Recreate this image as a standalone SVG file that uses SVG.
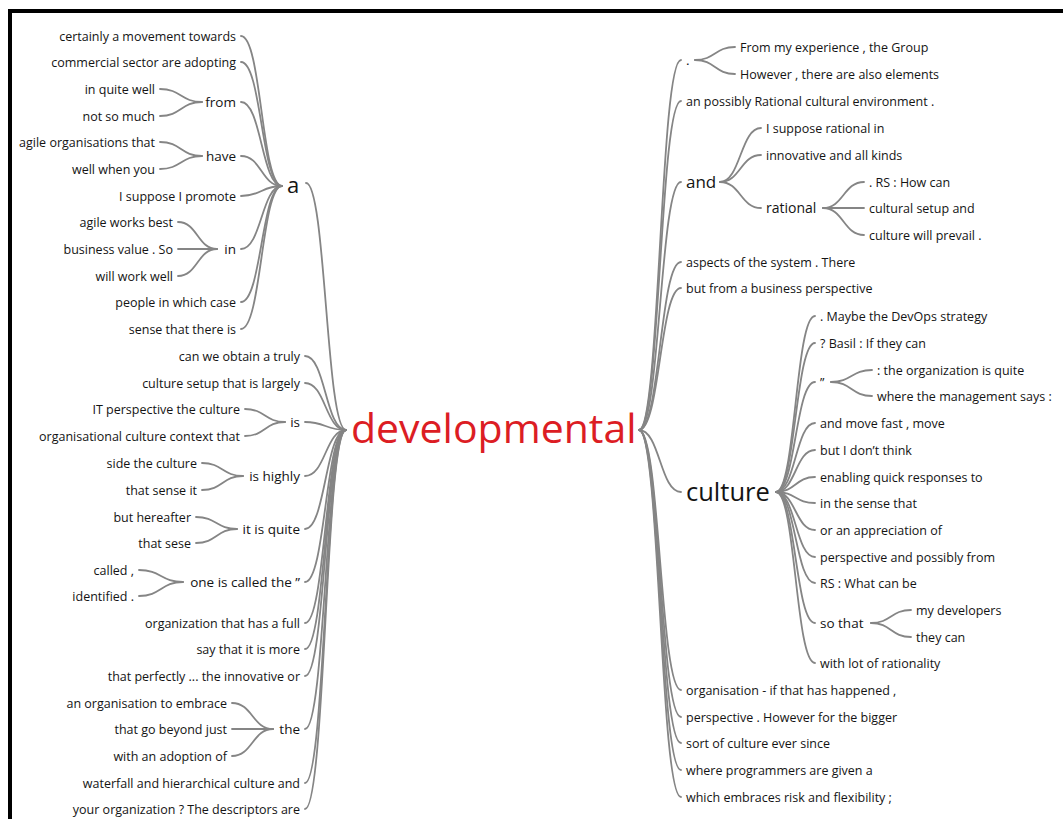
<svg xmlns="http://www.w3.org/2000/svg" width="1063" height="819" viewBox="0 0 1063 819">
  <style>
    text { font-family: "Open Sans", "Noto Sans", sans-serif; fill: #141414; }
    .leaf { font-size: 12.5px; }
    .mid { font-size: 13.5px; }
    .end { text-anchor: end; }
    .root { font-size: 41px; fill: #dc1d24; }
    .c { fill: none; stroke: #858585; stroke-width: 1.8; stroke-linecap: round; }
  </style>
  <rect width="1063" height="819" fill="#ffffff"/>
  <!-- frame: top and left edges only -->
  <path d="M10 819V11H1063" fill="none" stroke="#000" stroke-width="4"/>

  <g id="connectors">
    <!-- a -> children -->
    <path class="c" d="M241 36C261.5 36 261.5 186 282 186"/>
    <path class="c" d="M241 62C261.5 62 261.5 186 282 186"/>
    <path class="c" d="M241 102C261.5 102 261.5 186 282 186"/>
    <path class="c" d="M241 156C261.5 156 261.5 186 282 186"/>
    <path class="c" d="M241 196C261.5 196 261.5 186 282 186"/>
    <path class="c" d="M241 249C261.5 249 261.5 186 282 186"/>
    <path class="c" d="M241 302C261.5 302 261.5 186 282 186"/>
    <path class="c" d="M241 329C261.5 329 261.5 186 282 186"/>
    <!-- from / have / in -->
    <path class="c" d="M160 89C181 89 181 102 202 102"/>
    <path class="c" d="M160 116C181 116 181 102 202 102"/>
    <path class="c" d="M160 142C181 142 181 156 202 156"/>
    <path class="c" d="M160 169C181 169 181 156 202 156"/>
    <path class="c" d="M178 222C197.5 222 197.5 249 217 249"/>
    <path class="c" d="M178 249C197.5 249 197.5 249 217 249"/>
    <path class="c" d="M178 276C197.5 276 197.5 249 217 249"/>
    <!-- developmental (left side) -->
    <path class="c" d="M306 183C326 183 326 430 346 430"/>
    <path class="c" d="M305 356C325.5 356 325.5 430 346 430"/>
    <path class="c" d="M305 383C325.5 383 325.5 430 346 430"/>
    <path class="c" d="M305 422C325.5 422 325.5 430 346 430"/>
    <path class="c" d="M305 476C325.5 476 325.5 430 346 430"/>
    <path class="c" d="M305 529C325.5 529 325.5 430 346 430"/>
    <path class="c" d="M305 582C325.5 582 325.5 430 346 430"/>
    <path class="c" d="M305 623C325.5 623 325.5 430 346 430"/>
    <path class="c" d="M305 649C325.5 649 325.5 430 346 430"/>
    <path class="c" d="M305 676C325.5 676 325.5 430 346 430"/>
    <path class="c" d="M305 729C325.5 729 325.5 430 346 430"/>
    <path class="c" d="M305 783C325.5 783 325.5 430 346 430"/>
    <path class="c" d="M305 809C325.5 809 325.5 430 346 430"/>
    <!-- is / is highly / it is quite / one is called the / the -->
    <path class="c" d="M245 409C265 409 265 422 285 422"/>
    <path class="c" d="M245 436C265 436 265 422 285 422"/>
    <path class="c" d="M202 463C222.5 463 222.5 476 243 476"/>
    <path class="c" d="M202 490C222.5 490 222.5 476 243 476"/>
    <path class="c" d="M196 517C216.5 517 216.5 529 237 529"/>
    <path class="c" d="M196 543C216.5 543 216.5 529 237 529"/>
    <path class="c" d="M139 570C161 570 161 582 183 582"/>
    <path class="c" d="M139 596C161 596 161 582 183 582"/>
    <path class="c" d="M232 703C252.5 703 252.5 729 273 729"/>
    <path class="c" d="M232 729C252.5 729 252.5 729 273 729"/>
    <path class="c" d="M232 756C252.5 756 252.5 729 273 729"/>
    <!-- developmental (right side) -->
    <path class="c" d="M639 430C660 430 660 60 681 60"/>
    <path class="c" d="M639 430C660 430 660 101 681 101"/>
    <path class="c" d="M639 430C660 430 660 182 681 182"/>
    <path class="c" d="M639 430C660 430 660 262 681 262"/>
    <path class="c" d="M639 430C660 430 660 288 681 288"/>
    <path class="c" d="M639 430C660 430 660 492 681 492"/>
    <path class="c" d="M639 430C660 430 660 690 681 690"/>
    <path class="c" d="M639 430C660 430 660 717 681 717"/>
    <path class="c" d="M639 430C660 430 660 743 681 743"/>
    <path class="c" d="M639 430C660 430 660 770 681 770"/>
    <path class="c" d="M639 430C660 430 660 797 681 797"/>
    <!-- . -->
    <path class="c" d="M695 60C715 60 715 47 735 47"/>
    <path class="c" d="M695 60C715 60 715 74 735 74"/>
    <!-- and / rational -->
    <path class="c" d="M720 182C740.5 182 740.5 128 761 128"/>
    <path class="c" d="M720 182C740.5 182 740.5 155 761 155"/>
    <path class="c" d="M720 182C740.5 182 740.5 208 761 208"/>
    <path class="c" d="M823 208C843.5 208 843.5 182 864 182"/>
    <path class="c" d="M823 208C843.5 208 843.5 208 864 208"/>
    <path class="c" d="M823 208C843.5 208 843.5 235 864 235"/>
    <!-- culture -->
    <path class="c" d="M776 492C795.5 492 795.5 316 815 316"/>
    <path class="c" d="M776 492C795.5 492 795.5 343 815 343"/>
    <path class="c" d="M776 492C795.5 492 795.5 382 815 382"/>
    <path class="c" d="M776 492C795.5 492 795.5 423 815 423"/>
    <path class="c" d="M776 492C795.5 492 795.5 450 815 450"/>
    <path class="c" d="M776 492C795.5 492 795.5 477 815 477"/>
    <path class="c" d="M776 492C795.5 492 795.5 503 815 503"/>
    <path class="c" d="M776 492C795.5 492 795.5 530 815 530"/>
    <path class="c" d="M776 492C795.5 492 795.5 557 815 557"/>
    <path class="c" d="M776 492C795.5 492 795.5 583 815 583"/>
    <path class="c" d="M776 492C795.5 492 795.5 623 815 623"/>
    <path class="c" d="M776 492C795.5 492 795.5 663 815 663"/>
    <!-- quote / so that -->
    <path class="c" d="M831 382C851.5 382 851.5 370 872 370"/>
    <path class="c" d="M831 382C851.5 382 851.5 396 872 396"/>
    <path class="c" d="M871 623C891 623 891 610 911 610"/>
    <path class="c" d="M871 623C891 623 891 637 911 637"/>
  </g>

  <g id="node-developmental"><text class="root" x="351" y="443">developmental</text></g>

  <!-- left branch: a -->
  <g id="node-a"><text x="287" y="193" font-size="22">a</text></g>
  <g id="node-a-leaves">
    <text class="leaf end" x="236" y="40.5">certainly a movement towards</text>
    <text class="leaf end" x="236" y="66.5">commercial sector are adopting</text>
    <text class="leaf end" x="236" y="200.5">I suppose I promote</text>
    <text class="leaf end" x="236" y="306.5">people in which case</text>
    <text class="leaf end" x="236" y="333.5">sense that there is</text>
  </g>
  <g id="node-from">
    <text class="mid end" x="236" y="107">from</text>
    <text class="leaf end" x="155" y="93.5">in quite well</text>
    <text class="leaf end" x="155" y="120.5">not so much</text>
  </g>
  <g id="node-have">
    <text class="mid end" x="236" y="161">have</text>
    <text class="leaf end" x="155" y="146.5">agile organisations that</text>
    <text class="leaf end" x="155" y="173.5">well when you</text>
  </g>
  <g id="node-in">
    <text class="mid end" x="236" y="254">in</text>
    <text class="leaf end" x="173" y="226.5">agile works best</text>
    <text class="leaf end" x="173" y="253.5">business value . So</text>
    <text class="leaf end" x="173" y="280.5">will work well</text>
  </g>

  <!-- left branch: direct leaves of developmental -->
  <g id="node-left-leaves">
    <text class="leaf end" x="300" y="360.5">can we obtain a truly</text>
    <text class="leaf end" x="300" y="387.5">culture setup that is largely</text>
    <text class="leaf end" x="300" y="627.5">organization that has a full</text>
    <text class="leaf end" x="300" y="653.5">say that it is more</text>
    <text class="leaf end" x="300" y="680.5">that perfectly ... the innovative or</text>
    <text class="leaf end" x="300" y="787.5">waterfall and hierarchical culture and</text>
    <text class="leaf end" x="300" y="813.5">your organization ? The descriptors are</text>
  </g>
  <g id="node-is">
    <text class="mid end" x="300" y="427">is</text>
    <text class="leaf end" x="240" y="413.5">IT perspective the culture</text>
    <text class="leaf end" x="240" y="440.5">organisational culture context that</text>
  </g>
  <g id="node-is-highly">
    <text class="mid end" x="300" y="481">is highly</text>
    <text class="leaf end" x="197" y="467.5">side the culture</text>
    <text class="leaf end" x="197" y="494.5">that sense it</text>
  </g>
  <g id="node-it-is-quite">
    <text class="mid end" x="300" y="534">it is quite</text>
    <text class="leaf end" x="191" y="521.5">but hereafter</text>
    <text class="leaf end" x="191" y="547.5">that sese</text>
  </g>
  <g id="node-one-is-called">
    <text class="mid end" x="300" y="587">one is called the ”</text>
    <text class="leaf end" x="134" y="574.5">called ,</text>
    <text class="leaf end" x="134" y="600.5">identified .</text>
  </g>
  <g id="node-the">
    <text class="mid end" x="300" y="734">the</text>
    <text class="leaf end" x="227" y="707.5">an organisation to embrace</text>
    <text class="leaf end" x="227" y="733.5">that go beyond just</text>
    <text class="leaf end" x="227" y="760.5">with an adoption of</text>
  </g>

  <!-- right branch -->
  <g id="node-dot">
    <text class="mid" x="686" y="65">.</text>
    <text class="leaf" x="740" y="51.5">From my experience , the Group</text>
    <text class="leaf" x="740" y="78.5">However , there are also elements</text>
  </g>
  <g id="node-right-leaves">
    <text class="leaf" x="686" y="105.5">an possibly Rational cultural environment .</text>
    <text class="leaf" x="686" y="266.5">aspects of the system . There</text>
    <text class="leaf" x="686" y="292.5">but from a business perspective</text>
    <text class="leaf" x="686" y="694.5">organisation - if that has happened ,</text>
    <text class="leaf" x="686" y="721.5">perspective . However for the bigger</text>
    <text class="leaf" x="686" y="747.5">sort of culture ever since</text>
    <text class="leaf" x="686" y="774.5">where programmers are given a</text>
    <text class="leaf" x="686" y="801.5">which embraces risk and flexibility ;</text>
  </g>
  <g id="node-and">
    <text x="686" y="188" font-size="17">and</text>
    <text class="leaf" x="766" y="132.5">I suppose rational in</text>
    <text class="leaf" x="766" y="159.5">innovative and all kinds</text>
  </g>
  <g id="node-rational">
    <text x="766" y="213" font-size="14">rational</text>
    <text class="leaf" x="869" y="186.5">. RS : How can</text>
    <text class="leaf" x="869" y="212.5">cultural setup and</text>
    <text class="leaf" x="869" y="239.5">culture will prevail .</text>
  </g>
  <g id="node-culture">
    <text x="686" y="501" font-size="25.5">culture</text>
    <text class="leaf" x="820" y="320.5">. Maybe the DevOps strategy</text>
    <text class="leaf" x="820" y="347.5">? Basil : If they can</text>
    <text class="leaf" x="820" y="427.5">and move fast , move</text>
    <text class="leaf" x="820" y="454.5">but I don’t think</text>
    <text class="leaf" x="820" y="481.5">enabling quick responses to</text>
    <text class="leaf" x="820" y="507.5">in the sense that</text>
    <text class="leaf" x="820" y="534.5">or an appreciation of</text>
    <text class="leaf" x="820" y="561.5">perspective and possibly from</text>
    <text class="leaf" x="820" y="587.5">RS : What can be</text>
    <text class="leaf" x="820" y="667.5">with lot of rationality</text>
  </g>
  <g id="node-quote">
    <text class="leaf" x="820" y="386.5">”</text>
    <text class="leaf" x="877" y="374.5">: the organization is quite</text>
    <text class="leaf" x="877" y="400.5">where the management says :</text>
  </g>
  <g id="node-so-that">
    <text class="mid" x="820" y="628">so that</text>
    <text class="leaf" x="916" y="614.5">my developers</text>
    <text class="leaf" x="916" y="641.5">they can</text>
  </g>
</svg>
